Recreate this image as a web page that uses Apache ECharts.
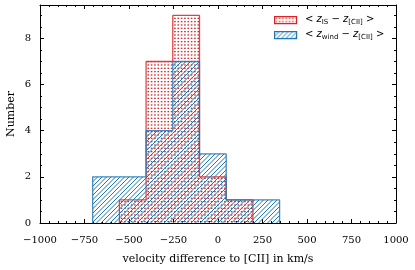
<!DOCTYPE html>
<html><head><meta charset="utf-8">
<script src="https://cdn.jsdelivr.net/npm/echarts@6/dist/echarts.min.js"></script>
<style>html,body{margin:0;padding:0;background:#fff}#c{width:415px;height:270px}</style>
</head><body><div id="c"></div>
<script>
// ---- data ----
const isEdges = [-554, -404, -254, -104, 46, 196];
const isCounts = [1, 7, 9, 2, 1];
const windEdges = [-704, -554, -404, -254, -104, 46, 196, 346];
const windCounts = [2, 2, 4, 7, 3, 1, 1];
const xRange = [-1000, 1000];
const yRange = [0, 9.45];
const xLabel = 'velocity difference to [CII] in km/s';
const yLabel = 'Number';
const legendTexts = [
  '{t|< }{i|z}{s|IS}{t| − }{i|z}{s|[CII]}{t| >}',
  '{t|< }{i|z}{s|wind}{t| − }{i|z}{s|[CII]}{t| >}'
];

const RED = '#d62728', BLUE = '#1f77b4';

function makeDots() {
  const c = document.createElement('canvas');
  c.width = 10; c.height = 10;
  const g = c.getContext('2d');
  g.fillStyle = RED;
  for (let i = 0; i < 3; i++) for (let j = 0; j < 3; j++) {
    g.fillRect(i * 10 / 3 + 0.8, j * 10 / 3 + 1, 1.6, 1.3);
  }
  return { type: 'pattern', image: c, repeat: 'repeat' };
}
function makeHatch() {
  const c = document.createElement('canvas');
  c.width = 9; c.height = 9;
  const g = c.getContext('2d');
  g.strokeStyle = BLUE; g.lineWidth = 1;
  for (let k = -2; k <= 2; k++) {
    g.beginPath(); g.moveTo(k * 4.5, 9); g.lineTo(k * 4.5 + 9, 0); g.stroke();
  }
  return { type: 'pattern', image: c, repeat: 'repeat' };
}
const dotPat = makeDots(), hatchPat = makeHatch();

function bins(edges, counts) { return counts.map((c, i) => [edges[i], edges[i + 1], c]); }
function stepPts(edges, counts) {
  const pts = [[edges[0], 0]];
  counts.forEach((c, i) => { pts.push([edges[i], c]); pts.push([edges[i + 1], c]); });
  pts.push([edges[edges.length - 1], 0]);
  return pts;
}
function fillItem(pat) {
  return function (params, api) {
    const p0 = api.coord([api.value(0), api.value(2)]);
    const p1 = api.coord([api.value(1), 0]);
    return { type: 'rect', shape: { x: p0[0], y: p0[1], width: p1[0] - p0[0], height: p1[1] - p0[1] },
      style: { fill: pat, stroke: null } };
  };
}

const font = 'DejaVu Serif';
const lineOn = { show: true, onZero: false, lineStyle: { color: '#000', width: 1 } };
const lineOff = { show: false, onZero: false };
const axBase = (extra) => Object.assign({
  type: 'value', splitLine: { show: false },
  axisLine: lineOn,
  axisTick: { show: true, inside: true, length: 4, lineStyle: { color: '#000' } },
}, extra);
const minorY = { show: true, inside: true, length: 2, lineStyle: { color: '#000' } };

const chart = echarts.init(document.getElementById('c'), null, { renderer: 'canvas' });
chart.setOption({
  animation: false,
  grid: { left: 40, right: 19, top: 5, bottom: 47, containLabel: false, outerBoundsMode: 'none' },
  xAxis: [
    axBase({ position: 'bottom', min: xRange[0], max: xRange[1], interval: 250,
      minorTick: { show: true, splitNumber: 5, length: 2, lineStyle: { color: '#000' } },
      axisLabel: { margin: 12, fontFamily: font, fontSize: 10, color: '#000',
        formatter: v => (v < 0 ? '\u2212' + Math.abs(v) : '' + v) },
      name: xLabel, nameLocation: 'middle', nameGap: 31, nameMoveOverlap: false,
      nameTextStyle: { fontFamily: font, fontSize: 11, color: '#000' } }),
    axBase({ position: 'top', min: xRange[0], max: xRange[1], interval: 250,
      minorTick: { show: true, splitNumber: 5, length: 2, lineStyle: { color: '#000' } },
      axisLabel: { show: false } })
  ],
  yAxis: [
    axBase({ position: 'left', min: yRange[0], max: yRange[1], interval: 2,
      axisLabel: { margin: 9, fontFamily: font, fontSize: 10, color: '#000', showMaxLabel: false },
      name: yLabel, nameLocation: 'middle', nameGap: 23, nameMoveOverlap: false,
      nameTextStyle: { fontFamily: font, fontSize: 11, color: '#000' } }),
    axBase({ position: 'left', min: yRange[0], max: yRange[1], interval: 0.5,
      axisLine: lineOff, axisTick: minorY, axisLabel: { show: false } }),
    axBase({ position: 'right', min: yRange[0], max: yRange[1], interval: 2,
      axisLabel: { show: false } }),
    axBase({ position: 'right', min: yRange[0], max: yRange[1], interval: 0.5,
      axisLine: lineOff, axisTick: minorY, axisLabel: { show: false } })
  ],
  series: [
    { type: 'custom', z: 2, renderItem: fillItem(dotPat), data: bins(isEdges, isCounts), encode: { x: [0, 1], y: 2 } },
    { type: 'line', z: 3, data: stepPts(isEdges, isCounts), symbol: 'none', lineStyle: { color: RED, width: 1.3, opacity: 0.85 } },
    { type: 'custom', z: 4, renderItem: fillItem(hatchPat), data: bins(windEdges, windCounts), encode: { x: [0, 1], y: 2 } },
    { type: 'line', z: 5, data: stepPts(windEdges, windCounts), symbol: 'none', lineStyle: { color: BLUE, width: 1.3, opacity: 0.85 } }
  ],
  graphic: [
    { type: 'rect', left: 274, top: 16, shape: { width: 22, height: 7 }, style: { fill: dotPat, stroke: RED, lineWidth: 1.2 } },
    { type: 'rect', left: 274, top: 31, shape: { width: 22, height: 7 }, style: { fill: hatchPat, stroke: BLUE, lineWidth: 1.2 } },
    ...legendTexts.map((t, k) => ({
      type: 'text', left: 305, top: 14 + k * 15,
      style: { text: t, rich: {
        t: { fontFamily: 'DejaVu Sans', fontSize: 10, lineHeight: 14, fill: '#000' },
        i: { fontFamily: 'DejaVu Sans', fontStyle: 'italic', fontSize: 10, lineHeight: 14, fill: '#000' },
        s: { fontFamily: 'DejaVu Sans', fontSize: 7, lineHeight: 8, verticalAlign: 'bottom', fill: '#000' }
      } }
    }))
  ]
});
</script></body></html>
